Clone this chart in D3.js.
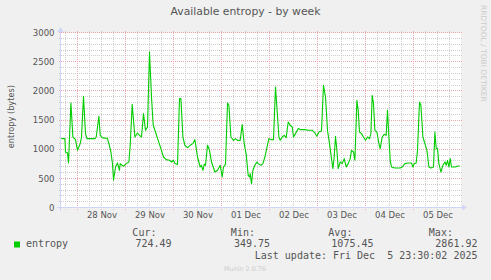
<!DOCTYPE html>
<html>
<head>
<meta charset="utf-8">
<script src="https://cdn.jsdelivr.net/npm/d3@7"></script>
<style>
  html, body { margin: 0; padding: 0; background: #f0f0f0; }
  svg { display: block; }
  text { font-family: "DejaVu Sans", sans-serif; }
  .mono { font-family: "DejaVu Sans Mono", monospace; white-space: pre; }
</style>
</head>
<body>
<svg id="chart" width="491" height="280"></svg>
<script>
// ==============================
// DATA
// ==============================
const chartTitle = "Available entropy - by week";
const yLabel = "entropy (bytes)";
const seriesName = "entropy";

// hours since 27 Nov 2025 00:00 (UTC)
const hours = [
  15.9, 17.7, 18.0, 19.0, 19.5, 20.7, 21.7, 23.0, 24.0, 25.35, 26.0, 27.0, 28.0, 28.7, 32.7, 33.35,
  34.7, 35.35, 36.35, 39.0, 39.7, 40.7, 41.5, 42.0, 43.0, 44.0, 45.0, 45.35, 46.35, 47.0, 48.35, 49.7,
  50.35, 51.35, 52.0, 52.7, 54.0, 55.0, 56.0, 57.0, 58.0, 59.0, 60.0, 61.0, 61.85, 63.0,
  64.35, 65.7, 67.0, 68.35, 70.0, 71.0, 72.0, 72.7, 74.0, 75.0, 75.7, 76.7, 77.7, 79.0, 80.35, 81.7,
  82.7, 84.0, 85.35, 86.0, 86.7, 87.35, 88.0, 89.0, 90.0, 91.0, 92.7, 94.0, 95.35, 96.35, 97.0, 98.0,
  99.0, 99.7, 100.7, 102.0, 103.0, 104.0, 105.35, 106.35, 107.35, 108.35, 109.35, 110.0, 110.35, 111.0,
  111.7, 112.7, 113.7,
  114.35, 115.7, 116.7, 117.7, 118.7, 119.7, 120.7, 122.0, 123.0, 123.7, 124.7, 125.35, 126.35, 127.35,
  128.35, 129.35, 130.35, 131.35, 132.0, 133.0, 134.35, 135.35, 137.7, 139.35, 141.35, 142.7, 143.7,
  144.7, 146.0, 147.0, 148.0, 149.0, 150.0, 151.0, 151.7, 152.35, 153.0, 153.7, 154.35, 155.35, 156.35,
  157.35, 158.35, 159.35, 160.35, 161.0, 162.0, 162.7, 163.7,
  164.35, 165.0, 166.0, 167.0, 168.0, 169.0, 170.0, 170.7, 171.35, 172.0, 172.7, 173.7, 174.7, 175.35,
  176.35, 177.35, 178.35, 179.0, 179.7, 180.35, 181.0, 182.7, 185.35, 186.35, 187.7, 189.35, 191.0,
  191.7, 192.35, 193.35, 194.0, 195.0, 195.7, 196.7, 197.7, 198.7, 199.7, 200.7, 202.0, 202.7, 203.35,
  204.0, 204.7, 205.7, 206.7, 207.7, 208.35, 209.0, 209.7, 210.35, 211.0, 212.7, 215.0
];

// entropy in bytes, one value per entry of hours
const entropy = [
  1190, 1190, 960, 943, 771, 1800, 1217, 1172, 989, 1104, 1217, 1915, 1275, 1190, 1190, 1217,
  1572, 1246, 1207, 1190, 1104, 960, 761, 475, 703, 771, 646, 761, 732, 715, 761, 788,
  1075, 1777, 1503, 1217, 1286, 1246, 1217, 1618, 1332, 1388, 2674, 1903, 1418, 1303,
  1160, 1018, 874, 829, 818, 788, 818, 761, 744, 1875, 1875, 1217, 1075, 1035, 1075, 1104,
  1172, 874, 703, 732, 646, 749, 732, 1075, 989, 788, 617, 646, 732, 531, 703, 749,
  1800, 1760, 1217, 1160, 1190, 1160, 1160, 1430, 1104, 920, 560, 531, 590, 418,
  646, 732, 788,
  761, 732, 761, 874, 1035, 1190, 1172, 1172, 2074, 1731, 1217, 1160, 1217, 1246,
  1207, 1474, 1418, 1388, 1217, 1275, 1361, 1344, 1344, 1332, 1332, 1286, 1229,
  1303, 1320, 2103, 1903, 1332, 1104, 847, 675, 874, 1229, 989, 675, 788, 761,
  847, 703, 761, 847, 989, 960, 818, 1846,
  1675, 1303, 1275, 1217, 1160, 1217, 1190, 1275, 1932, 1789, 1332, 1303, 1104, 1018,
  1217, 1263, 1246, 1675, 1217, 818, 703, 686, 686, 703, 761, 771, 771,
  703, 761, 771, 989, 1817, 1760, 1217, 1104, 989, 703, 686, 703, 1303, 1018,
  1018, 761, 617, 732, 788, 732, 818, 703, 847, 703, 703, 724
];

const yTicks = [0, 500, 1000, 1500, 2000, 2500, 3000];
const legendHeads = ["Cur:", "Min:", "Avg:", "Max:"];
const legendValues = ["724.49", "349.75", "1075.45", "2861.92"];
const lastUpdate = "Last update: Fri Dec  5 23:30:02 2025";
const watermark = "RRDTOOL / TOBI OETIKER";
const version = "Munin 2.0.76";

// ==============================
// LAYOUT
// ==============================
const plot = { left: 61, top: 33, width: 400, height: 175 };
const startHour = 15.75;
const endHour = 215.75;
const base = Date.UTC(2025, 10, 27);
const toDate = h => new Date(base + h * 3600e3);

const colors = {
    canvas: "#ffffff",
    font: "#555555",
    axis: "#cfd6f8",
    grid: "#cdcdcd",
    mgrid: "#eeaaaa",
    line: "#00cc00",
    faint: "#cccccc"
};

const legendCols = [171.5, 270, 373.5, 477.5];   // right edges of the value columns

// ==============================
// SCALES
// ==============================
const svg = d3.select("#chart");

const x = d3.scaleUtc()
    .domain([toDate(startHour), toDate(endHour)])
    .range([plot.left, plot.left + plot.width]);

const y = d3.scaleLinear()
    .domain([0, 3000])
    .range([plot.top + plot.height, plot.top]);

const crisp = v => Math.round(v) - 0.5;

// ==============================
// CANVAS + GRID
// ==============================
svg.append("rect")
    .attr("x", plot.left).attr("y", plot.top)
    .attr("width", plot.width).attr("height", plot.height)
    .attr("fill", colors.canvas);

const grid = svg.append("g").attr("stroke-width", 1).attr("stroke-dasharray", "1,1").attr("fill", "none");

// minor horizontal every 100
grid.selectAll(".hmin")
    .data(d3.range(100, 3001, 100).filter(v => v % 500 !== 0))
    .join("line")
    .attr("x1", plot.left - 2).attr("x2", plot.left + plot.width + 2)
    .attr("y1", d => crisp(y(d))).attr("y2", d => crisp(y(d)))
    .attr("stroke", colors.grid);

// minor vertical every 6 hours
const sixHours = x.ticks(d3.utcHour.every(6)).filter(d => d.getUTCHours() !== 0);
grid.selectAll(".vmin")
    .data(sixHours)
    .join("line")
    .attr("x1", d => crisp(x(d) + 0.5)).attr("x2", d => crisp(x(d) + 0.5))
    .attr("y1", plot.top - 2).attr("y2", plot.top + plot.height + 2)
    .attr("stroke", colors.grid);

// major horizontal every 500
grid.selectAll(".hmaj")
    .data(yTicks.filter(v => v > 0))
    .join("line")
    .attr("x1", plot.left - 2).attr("x2", plot.left + plot.width + 2)
    .attr("y1", d => crisp(y(d))).attr("y2", d => crisp(y(d)))
    .attr("stroke", colors.mgrid);

// major vertical at midnight
const days = x.ticks(d3.utcDay.every(1));
grid.selectAll(".vmaj")
    .data(days)
    .join("line")
    .attr("x1", d => crisp(x(d) + 0.5)).attr("x2", d => crisp(x(d) + 0.5))
    .attr("y1", plot.top - 2).attr("y2", plot.top + plot.height + 2)
    .attr("stroke", colors.mgrid);

// ==============================
// AXES
// ==============================
const x0 = plot.left - 0.5;
const y0 = plot.top + plot.height - 0.5;

svg.append("line")
    .attr("x1", plot.left - 4).attr("x2", plot.left + plot.width + 4)
    .attr("y1", y0).attr("y2", y0)
    .attr("stroke", colors.axis);
svg.append("line")
    .attr("x1", x0).attr("x2", x0)
    .attr("y1", plot.top + plot.height + 3).attr("y2", plot.top - 4)
    .attr("stroke", colors.axis);

// arrows
const xr = plot.left + plot.width;
svg.append("path")
    .attr("d", `M${xr + 1},${y0 - 3}L${xr + 6},${y0}L${xr + 1},${y0 + 3}Z`)
    .attr("fill", colors.axis);
svg.append("path")
    .attr("d", `M${x0 - 3},${plot.top - 1}L${x0},${plot.top - 6}L${x0 + 3},${plot.top - 1}Z`)
    .attr("fill", colors.axis);

// y tick labels
svg.append("g")
    .selectAll("text")
    .data(yTicks)
    .join("text")
    .attr("x", 54.5)
    .attr("y", d => y(d) + 2.8)
    .attr("text-anchor", "end")
    .attr("font-size", "8.5px")
    .attr("fill", colors.font)
    .text(d => d);

// x labels at noon
const noons = days.map(d => d3.utcHour.offset(d, 12)).filter(d => x(d) < plot.left + plot.width);
svg.append("g")
    .selectAll("text")
    .data(noons)
    .join("text")
    .attr("x", d => x(d) + 0.5)
    .attr("y", 218.3)
    .attr("text-anchor", "middle")
    .attr("font-size", "8.5px")
    .attr("fill", colors.font)
    .text(d => d3.utcFormat("%d %b")(d));

// ==============================
// SERIES
// ==============================
const points = hours.map((h, i) => ({ t: toDate(h), v: entropy[i] }));

const line = d3.line()
    .x(d => x(d.t))
    .y(d => y(d.v));

svg.append("path")
    .datum(points)
    .attr("d", line)
    .attr("fill", "none")
    .attr("stroke", colors.line)
    .attr("stroke-width", 1.1)
    .attr("stroke-linejoin", "round");

// ==============================
// TITLES
// ==============================
svg.append("text")
    .attr("x", 245.5).attr("y", 15)
    .attr("text-anchor", "middle")
    .attr("font-size", "10.8px")
    .attr("fill", colors.font)
    .text(chartTitle);

svg.append("text")
    .attr("transform", "translate(13.5,116.7) rotate(-90)")
    .attr("text-anchor", "middle")
    .attr("font-size", "8.2px")
    .attr("fill", colors.font)
    .text(yLabel);

svg.append("text")
    .attr("transform", "translate(480.5,5) rotate(90)")
    .attr("font-size", "7.5px")
    .attr("fill", colors.faint)
    .text(watermark);

// ==============================
// LEGEND
// ==============================
svg.append("rect")
    .attr("x", 14).attr("y", 241.5)
    .attr("width", 6).attr("height", 6)
    .attr("fill", colors.line);

svg.append("text")
    .attr("class", "mono")
    .attr("x", 26).attr("y", 247.3)
    .attr("font-size", "10px")
    .attr("fill", colors.font)
    .text(seriesName);

legendHeads.forEach((head, i) => {
    const right = legendCols[i];
    svg.append("text")
        .attr("class", "mono")
        .attr("x", right - (legendValues[i].length - head.length) * 6.02 + (i === 3 ? -6.5 : -3))
        .attr("y", 235.5)
        .attr("text-anchor", "end")
        .attr("font-size", "10px")
        .attr("fill", colors.font)
        .text(head);
    svg.append("text")
        .attr("class", "mono")
        .attr("x", right)
        .attr("y", 247.3)
        .attr("text-anchor", "end")
        .attr("font-size", "10px")
        .attr("fill", colors.font)
        .text(legendValues[i]);
});

svg.append("text")
    .attr("class", "mono")
    .attr("x", 477.5).attr("y", 259.3)
    .attr("text-anchor", "end")
    .attr("font-size", "10px")
    .attr("fill", colors.font)
    .text(lastUpdate);

svg.append("text")
    .attr("x", 245).attr("y", 271)
    .attr("text-anchor", "middle")
    .attr("font-size", "6.4px")
    .attr("fill", colors.faint)
    .text(version);
</script>
</body>
</html>
